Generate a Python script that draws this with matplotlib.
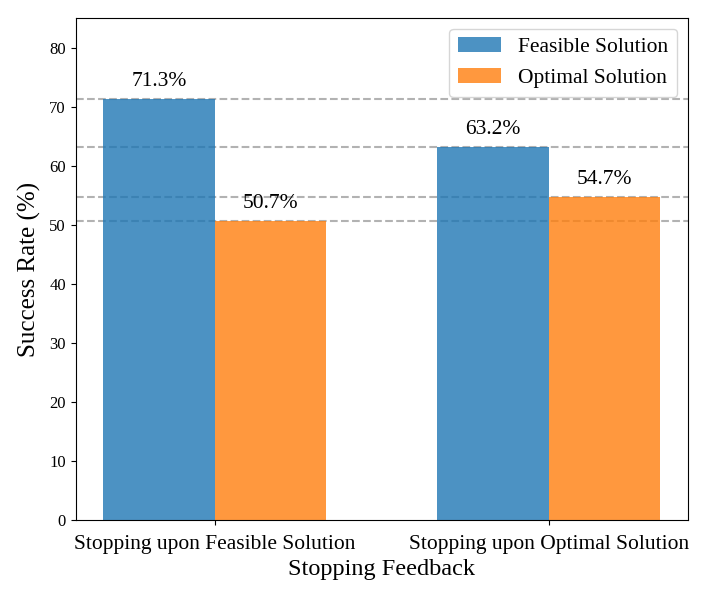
import matplotlib
matplotlib.use('Agg')
import matplotlib.pyplot as plt
import numpy as np

plt.rcParams['font.family'] = ['Liberation Serif', 'DejaVu Serif']

categories = ['Stopping upon Feasible Solution', 'Stopping upon Optimal Solution']
feasible = [71.3, 63.2]
optimal = [50.7, 54.7]

x = np.arange(len(categories))
width = 0.333

fig, ax = plt.subplots(figsize=(7.2, 6), dpi=100)
b1 = ax.bar(x - width/2, feasible, width, label='Feasible Solution', color='tab:blue', alpha=0.8)
b2 = ax.bar(x + width/2, optimal, width, label='Optimal Solution', color='tab:orange', alpha=0.8)

# dashed reference lines at each bar height
for v in feasible + optimal:
    ax.axhline(v, color='gray', linestyle='--', linewidth=1.5, alpha=0.6, zorder=0)

for bars in (b1, b2):
    for bar in bars:
        h = bar.get_height()
        ax.text(bar.get_x() + bar.get_width()/2, h + 1.3, f'{h:.1f}%',
                ha='center', va='bottom', fontsize=15.5)

ax.set_ylim(0, 85)
ax.set_xticks(x)
ax.set_xticklabels(categories, fontsize=15.5)
ax.tick_params(axis='x', pad=7)
ax.tick_params(axis='y', labelsize=12)
ax.set_xlabel('Stopping Feedback', fontsize=17.5)
ax.set_ylabel('Success Rate (%)', fontsize=18, labelpad=6)
ax.legend(fontsize=15.5, loc='upper right')

plt.subplots_adjust(left=0.105, right=0.955, top=0.97, bottom=0.133)
plt.savefig('out.png')
